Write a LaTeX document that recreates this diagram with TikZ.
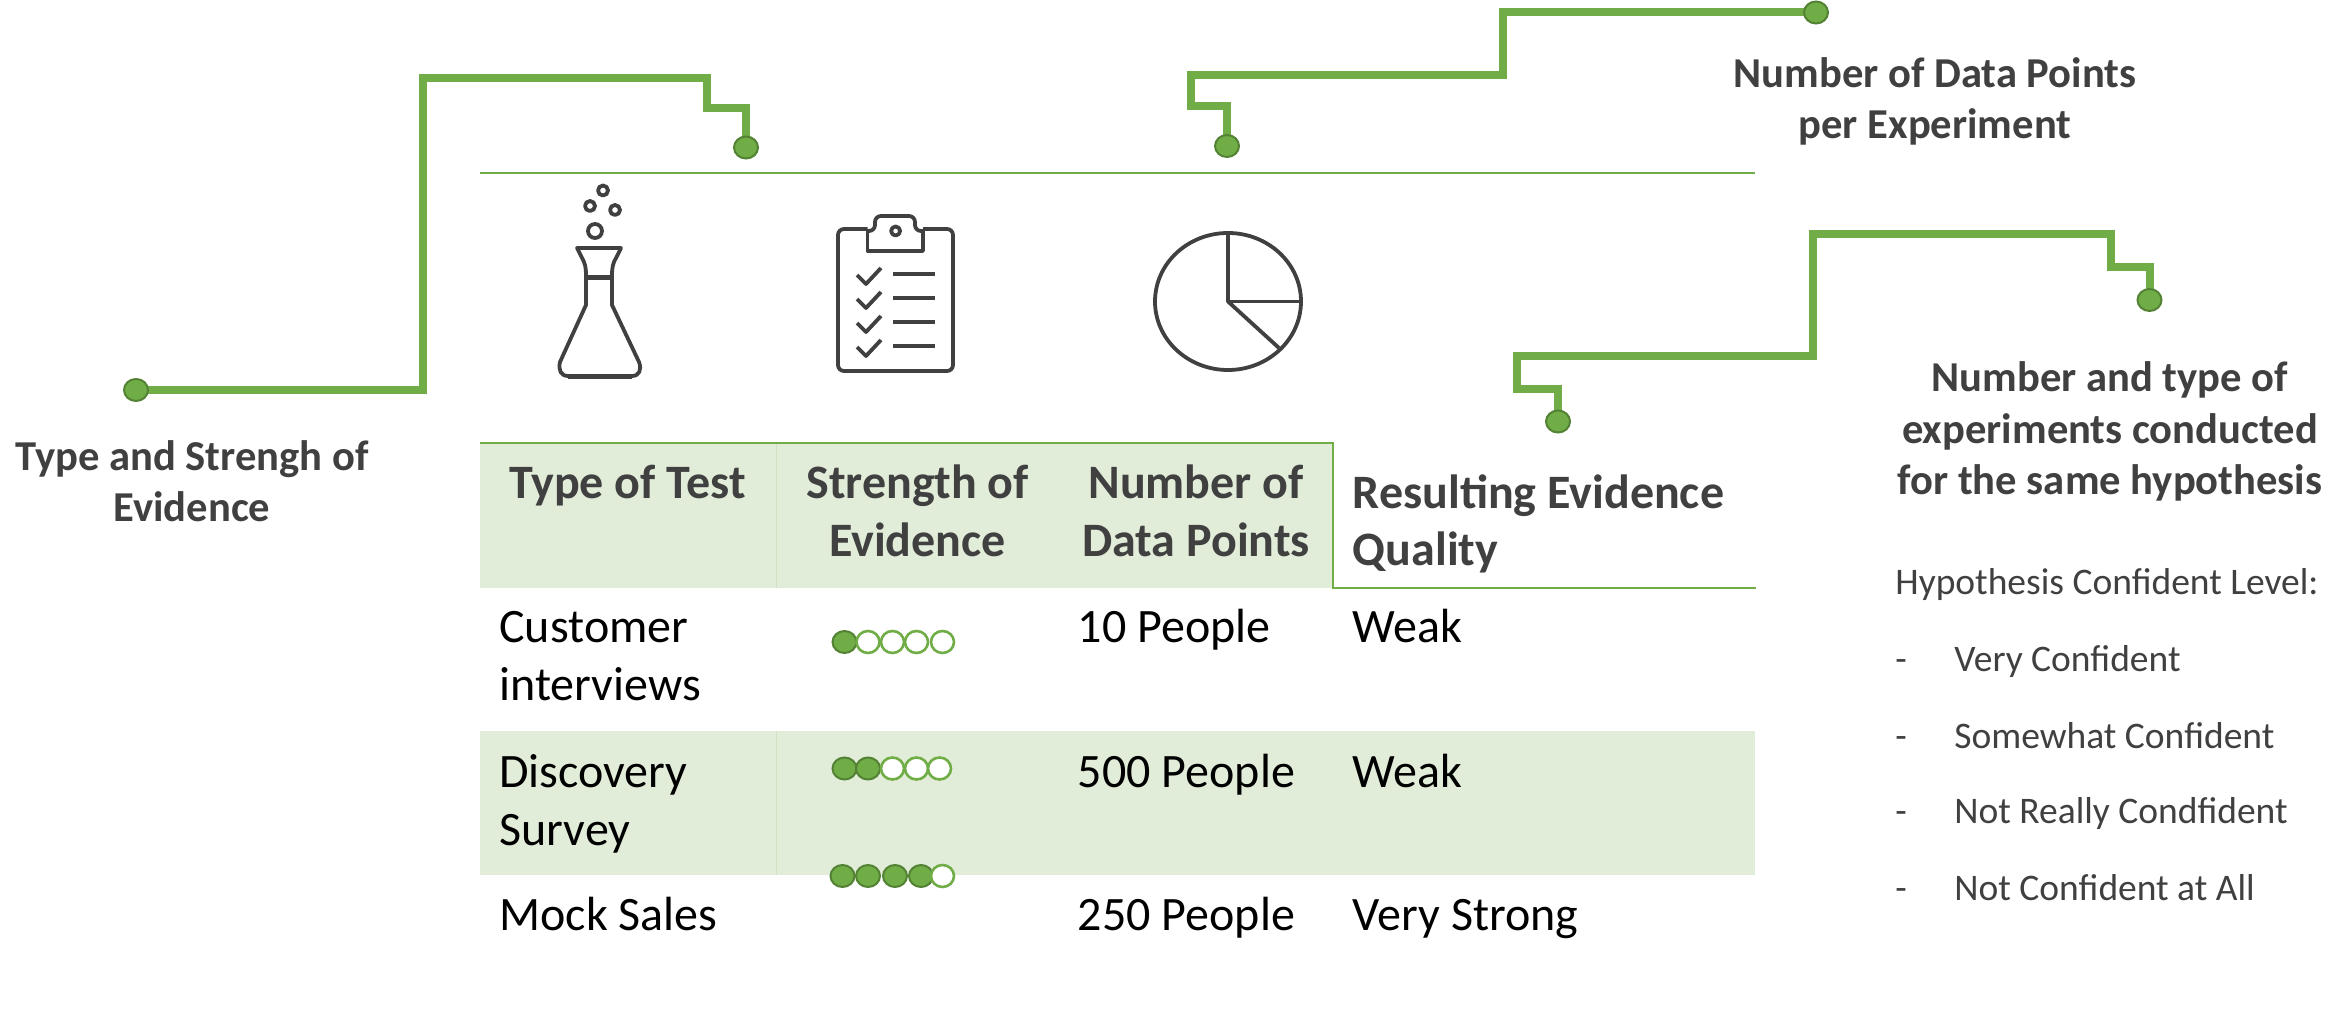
\documentclass[tikz,border=0pt]{standalone}
\usepackage{fontspec}
\setmainfont{Carlito}
\usetikzlibrary{shapes.geometric,backgrounds}
\definecolor{grn}{HTML}{70AD47}
\definecolor{grnd}{HTML}{548235}
\definecolor{pale}{HTML}{E2EDD9}
\definecolor{palel}{HTML}{CFE2C3}
\definecolor{ink}{HTML}{404040}
\tikzset{
  conn/.style={draw=grn,line width=4pt,miter limit=10},
  dotfull/.style={ellipse,draw=grnd,fill=grn,line width=1pt,minimum width=12pt,minimum height=11pt,inner sep=0pt},
  dotempty/.style={ellipse,draw=grn,fill=white,line width=1.3pt,minimum width=11.5pt,minimum height=11pt,inner sep=0pt},
  headtxt/.style={anchor=base,inner sep=0pt,font=\fontsize{24}{28}\selectfont\bfseries,text=ink},
  headleft/.style={anchor=base west,inner sep=0pt,font=\fontsize{24}{28}\selectfont\bfseries,text=ink},
  bodytxt/.style={anchor=base west,inner sep=0pt,font=\fontsize{24}{28}\selectfont,text=black},
  labeltxt/.style={anchor=base,inner sep=0pt,font=\fontsize{21.3}{25}\selectfont\bfseries,text=ink},
  listtxt/.style={anchor=base west,inner sep=0pt,font=\fontsize{18.75}{22}\selectfont,text=ink},
  icon/.style={draw=ink,line width=1.9pt,line join=round},
  iconthick/.style={draw=ink,line width=2.4pt},
  rule/.style={draw=grn,line width=1.25pt},
  softrule/.style={draw=palel,line width=0.6pt}
}
\begin{document}
\begin{tikzpicture}[x=0.5pt,y=-0.5pt]
\useasboundingbox (0,0) rectangle (2352,1031);
% table fills
\fill[pale] (480,443) rectangle (1333,588);
\fill[pale] (480,731) rectangle (1755,875);
\draw[softrule] (776.5,443) -- (776.5,588);
\draw[softrule] (776.5,731) -- (776.5,875);
% table rules
\draw[rule] (480,173) -- (1755,173);
\draw[rule] (480,443) -- (1333,443) -- (1333,588) -- (1756,588);
% flask
\draw[icon] (577,248) -- (621,248) -- (616,258) .. controls (613,263) and (612,268) .. (612,274) -- (612,305) -- (639,362)
  .. controls (642,370) and (639,376) .. (632,376) -- (568,376) .. controls (561,376) and (558,370) .. (560,362)
  -- (586,305) -- (586,274) .. controls (586,268) and (585,263) .. (582,258) -- cycle;
\draw[iconthick] (586,277.5) -- (612,277.5);
\draw[iconthick] (568,377) -- (632,377);
\draw[icon] (595,231) circle[radius=7];
\draw[icon] (603,190.5) circle[radius=5];
\draw[icon] (590,206) circle[radius=5];
\draw[icon] (615,210) circle[radius=5];
% clipboard
\draw[icon,rounded corners=3pt] (867.5,229) -- (838,229) -- (838,371) -- (953,371) -- (953,229) -- (923,229);
\draw[icon] (867.5,229) -- (867.5,251) -- (923,251) -- (923,229);
\draw[icon,rounded corners=3pt] (867.5,231) -- (875,231) -- (875,216) -- (915,216) -- (915,231) -- (923,231);
\draw[icon] (895.6,231) circle[radius=4.5];
\foreach \cy in {274,298,322,346}{
  \draw[icon] (857,\cy) ++(0,1) -- ++(9,9) -- ++(15,-16);
  \draw[iconthick] (893,\cy) -- (935,\cy);
}
% pie
\draw[icon] (1228,301.5) ellipse[x radius=73,y radius=68.5];
\draw[icon] (1228,233) -- (1228,301.5) -- (1300,301.5);
\draw[icon] (1228,301.5) -- (1279,348);
% connectors
\node[dotfull] (d1) at (136,390) {};
\node[dotfull] (d2) at (746,147.5) {};
\node[dotfull] (d3) at (1227,146) {};
\node[dotfull] (d4) at (1816,12.5) {};
\node[dotfull] (d5) at (1558,421.5) {};
\node[dotfull] (d6) at (2149.5,300) {};
\coordinate (a1) at (423,390); \coordinate (a2) at (423,78); \coordinate (a3) at (707,78);
\coordinate (a4) at (707,108); \coordinate (a5) at (746,108);
\coordinate (b1) at (1227,106); \coordinate (b2) at (1191,106); \coordinate (b3) at (1191,75);
\coordinate (b4) at (1503,75); \coordinate (b5) at (1503,12.5);
\coordinate (c1) at (2149.5,267); \coordinate (c2) at (2110.5,267); \coordinate (c3) at (2110.5,234.5);
\coordinate (c4) at (1813,234.5); \coordinate (c5) at (1813,356.5); \coordinate (c6) at (1516.5,356.5);
\coordinate (c7) at (1516.5,389); \coordinate (c8) at (1558,389);
\begin{pgfonlayer}{background}
\draw[conn] (d1.center) -- (a1) -- (a2) -- (a3) -- (a4) -- (a5) -- (d2.center);
\draw[conn] (d3.center) -- (b1) -- (b2) -- (b3) -- (b4) -- (b5) -- (d4.center);
\draw[conn] (d6.center) -- (c1) -- (c2) -- (c3) -- (c4) -- (c5) -- (c6) -- (c7) -- (c8) -- (d5.center);
\end{pgfonlayer}
% rating dots
\node[dotfull] (r11) at (844.5,642) {};
\node[dotempty] (r12) at (868,642) {};
\node[dotempty] (r13) at (892.5,642) {};
\node[dotempty] (r14) at (916.5,642) {};
\node[dotempty] (r15) at (942.5,642) {};
\node[dotfull] (r21) at (844.5,768.5) {};
\node[dotfull] (r22) at (868,768.5) {};
\node[dotempty] (r23) at (892.5,768.5) {};
\node[dotempty] (r24) at (916.5,768.5) {};
\node[dotempty] (r25) at (939.5,768.5) {};
\node[dotfull] (r31) at (842.5,876) {};
\node[dotfull] (r32) at (868,876) {};
\node[dotfull] (r33) at (895,876) {};
\node[dotfull] (r34) at (921,876) {};
\node[dotempty] (r35) at (942.5,876) {};
% table header
\node[headtxt] (h1) at (627.5,499) {Type of Test};
\node[headtxt] (h2a) at (917.5,499) {Strength of};
\node[headtxt] (h2b) at (917.5,557) {Evidence};
\node[headtxt] (h3a) at (1196,499) {Number of};
\node[headtxt] (h3b) at (1196,557) {Data Points};
\node[headleft] (h4a) at (1352.5,509) {Resulting Evidence};
\node[headleft] (h4b) at (1352.5,566) {Quality};
% table body
\node[bodytxt] (t11) at (499,643) {Customer};
\node[bodytxt] (t12) at (499,700.5) {interviews};
\node[bodytxt] (t13) at (1077.5,643) {10 People};
\node[bodytxt] (t14) at (1352.5,643) {Weak};
\node[bodytxt] (t21) at (499,787.5) {Discovery};
\node[bodytxt] (t22) at (499,845) {Survey};
\node[bodytxt] (t23) at (1077.5,787.5) {500 People};
\node[bodytxt] (t24) at (1352.5,787.5) {Weak};
\node[bodytxt] (t31) at (499,930.5) {Mock Sales};
\node[bodytxt] (t33) at (1077.5,930.5) {250 People};
\node[bodytxt] (t34) at (1352.5,930.5) {Very Strong};
% labels
\node[labeltxt] (l1a) at (192,470.5) {Type and Strengh of};
\node[labeltxt] (l1b) at (192,521.5) {Evidence};
\node[labeltxt] (l2a) at (1935,87.5) {Number of Data Points};
\node[labeltxt] (l2b) at (1935,138.5) {per Experiment};
\node[labeltxt] (l3a) at (2110,392) {Number and type of};
\node[labeltxt] (l3b) at (2110,443.5) {experiments conducted};
\node[labeltxt] (l3c) at (2110,495) {for the same hypothesis};
% list
\node[listtxt] (q0) at (1895,594.5) {Hypothesis Confident Level:};
\node[listtxt] (q1d) at (1895,671.5) {-};
\node[listtxt] (q1) at (1954,671.5) {Very Confident};
\node[listtxt] (q2d) at (1895,748) {-};
\node[listtxt] (q2) at (1954,748) {Somewhat Confident};
\node[listtxt] (q3d) at (1895,824) {-};
\node[listtxt] (q3) at (1954,824) {Not Really Condfident};
\node[listtxt] (q4d) at (1895,900.5) {-};
\node[listtxt] (q4) at (1954,900.5) {Not Confident at All};
\end{tikzpicture}
\end{document}
